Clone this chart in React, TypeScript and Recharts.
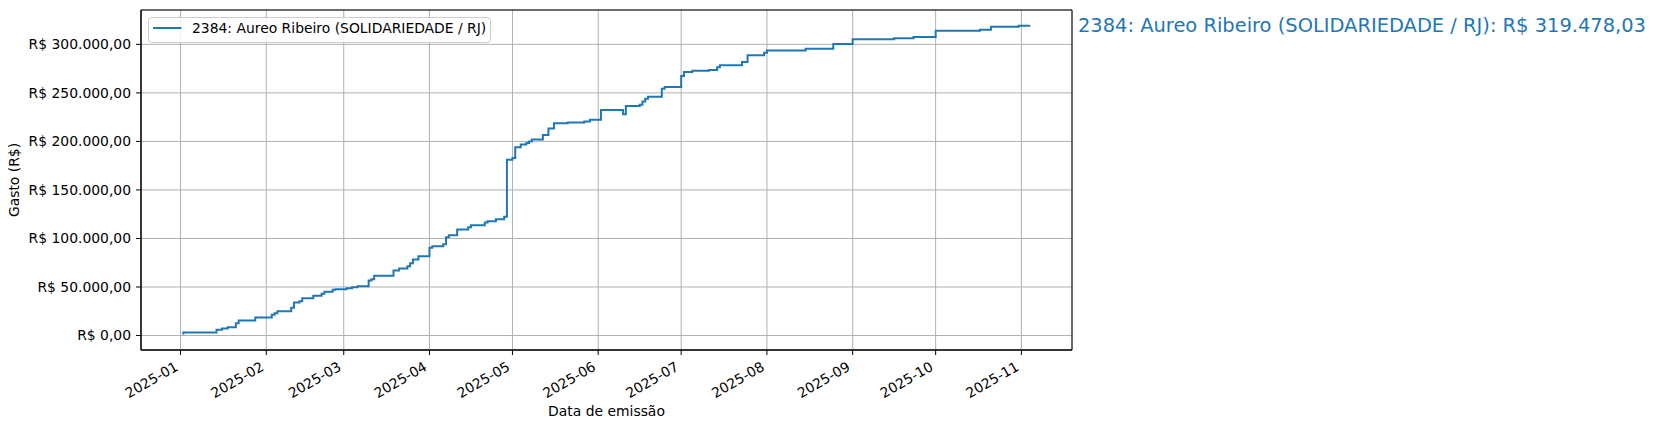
import React from 'react';
import { LineChart, Line, XAxis, YAxis, CartesianGrid, ReferenceDot, ReferenceArea, Legend } from 'recharts';

const emissionDates: string[] = [
  '2025-01-02', '2025-01-02', '2025-01-14', '2025-01-16', '2025-01-18', '2025-01-21', '2025-01-22', '2025-01-28',
  '2025-02-03', '2025-02-04', '2025-02-05', '2025-02-10', '2025-02-11', '2025-02-13', '2025-02-14', '2025-02-18',
  '2025-02-21', '2025-02-22', '2025-02-25', '2025-02-26',
  '2025-03-02', '2025-03-04', '2025-03-06', '2025-03-10', '2025-03-11', '2025-03-12', '2025-03-19', '2025-03-21',
  '2025-03-24', '2025-03-25', '2025-03-26', '2025-03-28',
  '2025-04-01', '2025-04-02', '2025-04-06', '2025-04-07', '2025-04-08', '2025-04-11', '2025-04-15', '2025-04-16',
  '2025-04-21', '2025-04-22', '2025-04-25', '2025-04-28', '2025-04-29',
  '2025-05-01', '2025-05-02', '2025-05-04', '2025-05-06', '2025-05-07', '2025-05-08', '2025-05-12', '2025-05-14',
  '2025-05-16', '2025-05-21', '2025-05-27', '2025-05-29',
  '2025-06-02', '2025-06-10', '2025-06-11', '2025-06-16', '2025-06-17', '2025-06-18', '2025-06-19', '2025-06-24',
  '2025-06-25',
  '2025-07-01', '2025-07-02', '2025-07-05', '2025-07-11', '2025-07-14', '2025-07-15', '2025-07-23', '2025-07-25',
  '2025-07-31',
  '2025-08-01', '2025-08-15', '2025-08-25',
  '2025-09-01', '2025-09-16', '2025-09-23',
  '2025-10-01', '2025-10-17', '2025-10-21', '2025-10-31',
  '2025-11-04',
];

const cumulativeSpend: number[] = [
  1000, 3100, 5900, 7200, 8600, 12700, 15500, 18600,
  21300, 23000, 25100, 28500, 34000, 35400, 38500, 40900,
  43000, 45000, 47100, 47700,
  48800, 49800, 50800, 56700, 58000, 61500, 67000, 69000,
  71400, 74500, 78400, 81800,
  90400, 92100, 94100, 101300, 103400, 109300, 111600, 113700,
  116500, 117800, 119900, 122300, 181100,
  183000, 194100, 196900, 198300, 200000, 202000, 206500, 213400,
  218600, 219600, 220600, 222400,
  232300, 228100, 236400, 237800, 241200, 244000, 246100, 254300,
  256000,
  267300, 271400, 272900, 273500, 276300, 278400, 281800, 288700,
  291400,
  293800, 295500, 300300,
  305200, 306200, 307500,
  314100, 315100, 318200, 319300,
  319478.03,
];

const monthTickLabels: string[] = [
  '2025-01', '2025-02', '2025-03', '2025-04', '2025-05', '2025-06',
  '2025-07', '2025-08', '2025-09', '2025-10', '2025-11',
];

const spendTicks: number[] = [0, 50000, 100000, 150000, 200000, 250000, 300000];

const seriesName = '2384: Aureo Ribeiro (SOLIDARIEDADE / RJ)';
const xAxisTitle = 'Data de emissão';
const yAxisTitle = 'Gasto (R$)';

const FONT = '"DejaVu Sans", sans-serif';
const BLUE = '#1f77b4';
const DAY_MS = 86400000;
const ORIGIN = Date.UTC(2025, 0, 1);
const toDay = (iso: string) => (Date.parse(iso + 'T00:00:00Z') - ORIGIN) / DAY_MS;

const data = emissionDates.map((d, i) => ({ day: toDay(d), total: cumulativeSpend[i] }));
const monthTicks = monthTickLabels.map((m) => toDay(m + '-01'));

const dayValues = data.map((p) => p.day);
const xMin = Math.min(...dayValues);
const xMax = Math.max(...dayValues);
const xPad = (xMax - xMin) * 0.05;
const xDomain: [number, number] = [xMin - xPad, xMax + xPad];

const yMin = Math.min(...cumulativeSpend);
const yMax = Math.max(...cumulativeSpend);
const yPad = (yMax - yMin) * 0.05;
const yDomain: [number, number] = [yMin - yPad, yMax + yPad];

const lastPoint = data[data.length - 1];

const fmtBRL = (v: number) => {
  const [intPart, dec] = Math.abs(v).toFixed(2).split('.');
  const withDots = intPart.replace(/\B(?=(\d{3})+(?!\d))/g, '.');
  return `R$ ${v < 0 ? '-' : ''}${withDots},${dec}`;
};

const monthLabel = (day: number) => {
  const idx = monthTicks.indexOf(day);
  return idx >= 0 ? monthTickLabels[idx] : '';
};

const XTick = (props: any) => {
  const { x, y, payload } = props;
  return (
    <text
      x={0}
      y={0}
      transform={`translate(${x - 1.5},${y + 9.5}) rotate(-30)`}
      textAnchor="end"
      fontSize={13.9}
      fontFamily={FONT}
      fill="#000"
    >
      {monthLabel(payload.value)}
    </text>
  );
};

const XTitle = (props: any) => {
  const vb = props.viewBox || { x: 141, y: 350, width: 931, height: 80 };
  return (
    <text x={vb.x + vb.width / 2} y={416} textAnchor="middle" fontSize={13.9} fontFamily={FONT} fill="#000">
      {xAxisTitle}
    </text>
  );
};

const YTitle = (props: any) => {
  const vb = props.viewBox || { x: 0, y: 10, width: 141, height: 340 };
  const cy = vb.y + vb.height / 2;
  return (
    <text
      x={18.5}
      y={cy}
      transform={`rotate(-90, 18.5, ${cy})`}
      textAnchor="middle"
      fontSize={13.9}
      fontFamily={FONT}
      fill="#000"
    >
      {yAxisTitle}
    </text>
  );
};

const LegendBox = () => (
  <svg width={344} height={26} style={{ display: 'block' }}>
    <rect x={0.5} y={0.5} width={342} height={25} rx={3} ry={3} fill="rgba(255,255,255,0.8)" stroke="#cccccc" strokeWidth={1} />
    <line x1={5} x2={33.4} y1={11} y2={11} stroke={BLUE} strokeWidth={2} />
    <text x={44} y={16} fontSize={13.9} fontFamily={FONT} fill="#000">
      {seriesName}
    </text>
  </svg>
);

const EndLabel = (props: any) => {
  const vb = props.viewBox || { x: 0, y: 25 };
  return (
    <text
      x={1078}
      y={vb.y + 7}
      fontSize={19.6}
      fontFamily={FONT}
      fill={BLUE}
      textLength={568}
      lengthAdjust="spacingAndGlyphs"
    >
      {`${seriesName}: ${fmtBRL(lastPoint.total)}`}
    </text>
  );
};

export default function App() {
  return (
    <div style={{ width: 1658, height: 430, background: '#fff' }}>
      <style>{'html,body{margin:0;padding:0;background:#fff;}'}</style>
      <LineChart
        width={1658}
        height={430}
        data={data}
        margin={{ top: 10, right: 586, bottom: 0, left: 0 }}
      >
        <CartesianGrid stroke="#b0b0b0" strokeWidth={1} />
        <XAxis
          dataKey="day"
          type="number"
          domain={xDomain}
          ticks={monthTicks}
          interval={0}
          allowDataOverflow
          height={80}
          tickSize={5}
          tickMargin={5}
          tick={<XTick />}
          axisLine={{ stroke: '#000', strokeWidth: 1 }}
          tickLine={{ stroke: '#000', strokeWidth: 1 }}
          label={<XTitle />}
        />
        <YAxis
          type="number"
          domain={yDomain}
          ticks={spendTicks}
          interval={0}
          allowDataOverflow
          width={141}
          tickSize={5}
          tickMargin={5}
          tickFormatter={fmtBRL}
          tick={{ fill: '#000', fontSize: 13.9, fontFamily: FONT }}
          axisLine={{ stroke: '#000', strokeWidth: 1 }}
          tickLine={{ stroke: '#000', strokeWidth: 1 }}
          label={<YTitle />}
        />
        <ReferenceArea
          x1={xDomain[0]}
          x2={xDomain[1]}
          y1={yDomain[0]}
          y2={yDomain[1]}
          fill="none"
          fillOpacity={0}
          stroke="#000"
          strokeWidth={1}
          strokeOpacity={1}
          ifOverflow="visible"
        />
        <Legend
          layout="vertical"
          align="center"
          verticalAlign="middle"
          wrapperStyle={{ position: 'absolute', left: 148, top: 17, width: 344, height: 26 }}
          content={() => <LegendBox />}
        />
        <Line
          type="stepAfter"
          dataKey="total"
          name={seriesName}
          stroke={BLUE}
          strokeWidth={2}
          dot={false}
          activeDot={false}
          isAnimationActive={false}
        />
        <ReferenceDot
          x={lastPoint.day}
          y={lastPoint.total}
          r={0}
          fill="none"
          stroke="none"
          ifOverflow="visible"
          label={<EndLabel />}
        />
      </LineChart>
    </div>
  );
}
